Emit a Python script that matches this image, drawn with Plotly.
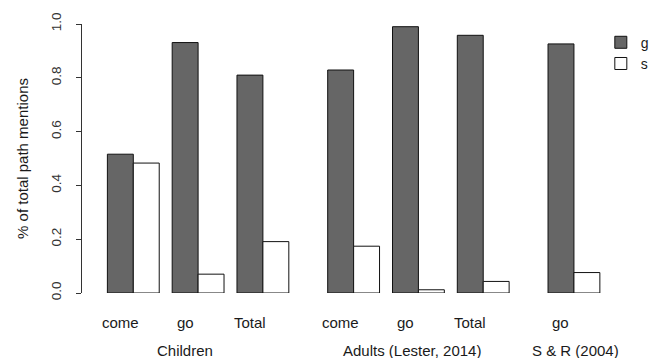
import plotly.graph_objects as go

# ---- data ----
groups = ["Children", "Children", "Children",
          "Adults (Lester, 2014)", "Adults (Lester, 2014)", "Adults (Lester, 2014)",
          "S & R (2004)"]
categories = ["come", "go", "Total", "come", "go", "Total", "go"]
g_values = [0.516, 0.931, 0.810, 0.829, 0.990, 0.958, 0.926]
s_values = [0.483, 0.070, 0.191, 0.174, 0.012, 0.043, 0.076]
y_ticks = [0.0, 0.2, 0.4, 0.6, 0.8, 1.0]

# ---- layout of bar positions (units of one bar width) ----
centers = []
pos = 0.0
for i, grp in enumerate(groups):
    if i > 0:
        pos += 2.5 + (1.0 if grp != groups[i - 1] else 0.0)
    centers.append(pos)

FONT = "Liberation Sans, Arial, sans-serif"
TXT = "#1a1a1a"

fig = go.Figure()
fig.add_trace(go.Bar(x=[c - 0.5 for c in centers], y=g_values, width=1.0, name="g",
                     marker=dict(color="#666666", line=dict(color="#111111", width=1))))
fig.add_trace(go.Bar(x=[c + 0.5 for c in centers], y=s_values, width=1.0, name="s",
                     marker=dict(color="#ffffff", line=dict(color="#111111", width=1))))

annotations = []
for c, cat in zip(centers, categories):
    annotations.append(dict(x=c - 0.5, y=-0.108, xref="x", yref="paper", text=cat,
                            showarrow=False, xanchor="center", yanchor="middle",
                            font=dict(size=15, color=TXT, family=FONT)))
# group labels
group_names = []
for grp in groups:
    if grp not in group_names:
        group_names.append(grp)
group_label_x = {"Children": 2.0, "Adults (Lester, 2014)": 10.77, "S & R (2004)": 17.07}
for grp in group_names:
    annotations.append(dict(x=group_label_x[grp], y=-0.213, xref="x", yref="paper", text=grp,
                            showarrow=False, xanchor="center", yanchor="middle",
                            font=dict(size=15, color=TXT, family=FONT)))

px_per_unit = 25.92
left_px, right_px, zero_px = 82, 605, 133.3
x_range = [(left_px - zero_px) / px_per_unit, (right_px - zero_px) / px_per_unit]

fig.update_layout(
    width=652, height=358,
    margin=dict(l=82, r=652 - right_px, t=24, b=65, pad=0, autoexpand=False),
    paper_bgcolor="white", plot_bgcolor="white",
    barmode="overlay",
    font=dict(family=FONT, size=13, color=TXT),
    showlegend=True,
    legend=dict(x=0.992, y=0.99, xanchor="left", yanchor="top",
                font=dict(size=14, color=TXT), bgcolor="rgba(0,0,0,0)",
                tracegroupgap=0, itemwidth=30),
    annotations=annotations,
    xaxis=dict(range=x_range, showgrid=False, zeroline=False, showline=False,
               showticklabels=False, ticks="", fixedrange=True),
    yaxis=dict(range=[0, 1], showgrid=False, zeroline=False, showline=True,
               linecolor="#333333", linewidth=1, ticks="outside", ticklen=5,
               tickcolor="#333333", tickvals=y_ticks,
               ticktext=[f"{v:.1f}" for v in y_ticks], tickangle=-90,
               ticklabelstandoff=10,
               tickfont=dict(size=13.5, color="#333333"),
               title=dict(text="% of total path mentions", standoff=16,
                          font=dict(size=15, color=TXT))),
)

fig.write_html("out.html")
